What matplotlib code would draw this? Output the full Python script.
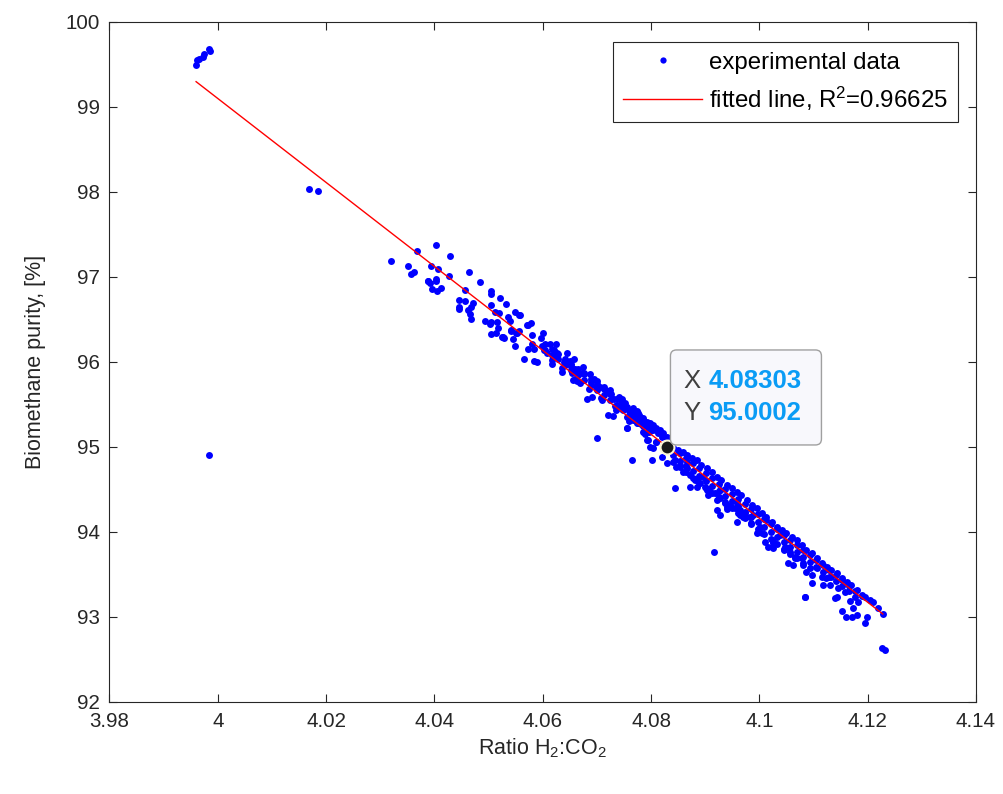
import matplotlib
matplotlib.use("Agg")
import matplotlib.pyplot as plt
from matplotlib.patches import FancyBboxPatch
from matplotlib.transforms import IdentityTransform

plt.rcParams['font.family'] = ['Liberation Sans', 'DejaVu Sans']
plt.rcParams['mathtext.fontset'] = 'custom'
plt.rcParams['mathtext.rm'] = 'Liberation Sans'
plt.rcParams['mathtext.it'] = 'Liberation Sans:italic'

# experimental points (ratio H2:CO2, purity %)
top_left = [(3.9960, 99.494), (3.9962, 99.553), (3.9965, 99.565), (3.9973, 99.588),
            (3.9975, 99.624), (3.9984, 99.682), (3.9986, 99.659)]
isolated = [(4.0168, 98.039), (4.0185, 98.008), (3.9984, 94.906)]

seg_404 = [(4.0319, 97.192), (4.0367, 97.302), (4.0352, 97.126), (4.0357, 97.032), (4.0363, 97.059),
           (4.0389, 96.953), (4.0403, 97.376), (4.0429, 97.244), (4.0394, 97.133), (4.0407, 97.094),
           (4.0403, 96.980), (4.0403, 96.956), (4.0388, 96.956), (4.0391, 96.926), (4.0396, 96.859),
           (4.0405, 96.835), (4.0412, 96.874), (4.0427, 97.008), (4.0463, 97.055), (4.0485, 96.941),
           (4.0457, 96.844), (4.0445, 96.726), (4.0445, 96.644), (4.0445, 96.620), (4.0456, 96.721),
           (4.0471, 96.698), (4.0468, 96.644), (4.0462, 96.612), (4.0466, 96.561), (4.0468, 96.509),
           (4.0504, 96.835), (4.0504, 96.796), (4.0522, 96.756), (4.0505, 96.667), (4.0533, 96.686),
           (4.0511, 96.585), (4.0519, 96.576), (4.0548, 96.592), (4.0557, 96.553), (4.0535, 96.533),
           (4.0539, 96.482), (4.0494, 96.486), (4.0502, 96.447), (4.0505, 96.474), (4.0515, 96.467),
           (4.0518, 96.396), (4.0505, 96.329), (4.0514, 96.338), (4.0525, 96.298), (4.0528, 96.282),
           (4.0541, 96.376), (4.0552, 96.341), (4.0545, 96.271), (4.0548, 96.188), (4.0557, 96.368),
           (4.0571, 96.439), (4.0565, 96.039), (4.0573, 96.156)]

seg_406 = [(4.0558, 96.556), (4.0541, 96.368), (4.0551, 96.338), (4.0527, 96.291), (4.0572, 96.435),
           (4.0578, 96.462), (4.0581, 96.318), (4.0600, 96.341), (4.0597, 96.286), (4.0599, 96.192),
           (4.0581, 96.208), (4.0583, 96.149), (4.0584, 96.015), (4.0590, 96.000), (4.0613, 96.215),
           (4.0624, 96.208), (4.0620, 96.145), (4.0603, 96.141), (4.0608, 96.102), (4.0627, 96.102),
           (4.0626, 96.062), (4.0617, 96.024), (4.0618, 95.976), (4.0644, 96.109), (4.0635, 95.886),
           (4.0639, 96.004), (4.0644, 95.980), (4.0650, 96.012), (4.0657, 96.032), (4.0653, 95.949),
           (4.0659, 95.918), (4.0654, 95.871), (4.0663, 95.859), (4.0663, 95.776), (4.0656, 95.788),
           (4.0675, 95.945), (4.0677, 95.874), (4.0672, 95.867), (4.0669, 95.749), (4.0687, 95.859),
           (4.0690, 95.768), (4.0695, 95.804), (4.0700, 95.776), (4.0698, 95.702), (4.0706, 95.702),
           (4.0681, 95.565), (4.0691, 95.588), (4.0700, 95.106), (4.0708, 95.576), (4.0714, 95.709),
           (4.0719, 95.662), (4.0724, 95.674), (4.0727, 95.627), (4.0731, 95.565), (4.0721, 95.376),
           (4.0730, 95.365), (4.0741, 95.585), (4.0746, 95.565), (4.0745, 95.502), (4.0747, 95.451),
           (4.0733, 95.482), (4.0738, 95.455), (4.0755, 95.474), (4.0759, 95.424), (4.0764, 95.380),
           (4.0756, 95.227), (4.0767, 95.455), (4.0775, 95.427), (4.0770, 95.349), (4.0778, 95.373),
           (4.0783, 95.329), (4.0786, 95.271), (4.0781, 95.271), (4.0788, 95.153), (4.0793, 95.082),
           (4.0797, 95.180), (4.0774, 95.279)]

seg_408 = [(4.0752, 95.514), (4.0764, 95.435), (4.0770, 95.404), (4.0776, 95.396), (4.0780, 95.356),
           (4.0786, 95.338), (4.0792, 95.298), (4.0799, 95.279), (4.0804, 95.259), (4.0810, 95.220),
           (4.0816, 95.200), (4.0823, 95.161), (4.0829, 95.121), (4.0754, 95.455), (4.0761, 95.415),
           (4.0773, 95.356), (4.0783, 95.298), (4.0795, 95.239), (4.0804, 95.200), (4.0813, 95.161),
           (4.0820, 95.121), (4.0755, 95.356), (4.0767, 95.318), (4.0776, 95.279), (4.0755, 95.220),
           (4.0764, 94.847), (4.0801, 94.847), (4.0820, 94.886), (4.0789, 95.161), (4.0795, 95.082),
           (4.0804, 94.985), (4.0799, 95.004), (4.0810, 95.062)]

seg_409 = [(4.0841, 94.985), (4.0850, 94.965), (4.0859, 94.945), (4.0866, 94.906), (4.0875, 94.867),
           (4.0884, 94.847), (4.0893, 94.788), (4.0903, 94.749), (4.0912, 94.709), (4.0921, 94.651),
           (4.0930, 94.612), (4.0940, 94.553), (4.0949, 94.514), (4.0958, 94.474), (4.0967, 94.435),
           (4.0977, 94.376), (4.0986, 94.318), (4.0995, 94.279), (4.1004, 94.220), (4.1013, 94.141),
           (4.0844, 94.847), (4.0853, 94.788), (4.0866, 94.749), (4.0872, 94.671), (4.0881, 94.612),
           (4.0890, 94.573), (4.0900, 94.533), (4.0909, 94.474), (4.0918, 94.455), (4.0927, 94.396),
           (4.0936, 94.356), (4.0946, 94.318), (4.0955, 94.279), (4.0964, 94.259), (4.0973, 94.220),
           (4.0983, 94.180), (4.0872, 94.533), (4.0906, 94.435), (4.0921, 94.259), (4.0927, 94.200),
           (4.0958, 94.121), (4.0940, 94.298), (4.0866, 94.827), (4.0896, 94.651), (4.0927, 94.494),
           (4.0958, 94.338), (4.0989, 94.200), (4.0844, 94.521), (4.0940, 94.271), (4.0829, 94.808),
           (4.0847, 94.768), (4.0859, 94.709), (4.0884, 94.533), (4.0903, 94.494), (4.0921, 94.376),
           (4.0917, 93.761)]

seg_411 = [(4.1013, 94.180), (4.1023, 94.121), (4.1032, 94.062), (4.1041, 94.024), (4.1050, 93.985),
           (4.1060, 93.945), (4.1069, 93.906), (4.1078, 93.847), (4.1087, 93.788), (4.1097, 93.749),
           (4.1106, 93.691), (4.1115, 93.632), (4.1124, 93.592), (4.1133, 93.553), (4.1143, 93.514),
           (4.1152, 93.455), (4.1161, 93.415), (4.1170, 93.376), (4.1180, 93.318), (4.1189, 93.259),
           (4.1195, 93.239), (4.1204, 93.200), (4.1210, 93.173), (4.1219, 93.102), (4.1228, 93.035),
           (4.0970, 94.180), (4.0995, 93.985), (4.1010, 93.886), (4.1016, 93.827), (4.1026, 93.867),
           (4.1026, 93.808), (4.1047, 93.820), (4.1056, 93.768), (4.1078, 93.691), (4.1053, 93.632),
           (4.1063, 93.612), (4.1081, 93.612), (4.1087, 93.533), (4.1097, 93.494), (4.1097, 93.396),
           (4.1115, 93.474), (4.1118, 93.376), (4.1130, 93.376), (4.1146, 93.338), (4.1158, 93.298),
           (4.1084, 93.239), (4.1143, 93.239), (4.1001, 94.062), (4.1038, 93.965), (4.1066, 93.710),
           (4.1106, 93.573), (4.1085, 93.235), (4.1140, 93.220), (4.1167, 93.192), (4.1183, 93.180),
           (4.1173, 93.102), (4.1153, 93.071), (4.1160, 92.996), (4.1171, 93.004), (4.1181, 93.027),
           (4.1199, 92.996), (4.1195, 92.926), (4.1227, 92.632), (4.1232, 92.612), (4.1123, 93.455),
           (4.1133, 93.474)]

# the dense core of the band, 4.06 - 4.12
band_core = [(4.0605, 96.21), (4.0605, 96.14), (4.0617, 96.15), (4.0617, 96.08), (4.0629, 96.09),
             (4.0629, 96.03), (4.0641, 96.04), (4.0641, 95.97), (4.0653, 95.98), (4.0653, 95.91),
             (4.0665, 95.92), (4.0665, 95.85), (4.0677, 95.86), (4.0677, 95.79), (4.0689, 95.80),
             (4.0689, 95.73), (4.0701, 95.74), (4.0701, 95.67), (4.0713, 95.68), (4.0713, 95.61),
             (4.0725, 95.62), (4.0725, 95.55), (4.0737, 95.56), (4.0737, 95.49), (4.0749, 95.50),
             (4.0749, 95.43), (4.0761, 95.44), (4.0761, 95.37), (4.0773, 95.38), (4.0773, 95.31),
             (4.0785, 95.32), (4.0785, 95.25), (4.0797, 95.26), (4.0797, 95.19),
             (4.0841, 94.99), (4.0841, 94.90), (4.0841, 94.82), (4.0853, 94.93), (4.0853, 94.84),
             (4.0853, 94.76), (4.0865, 94.87), (4.0865, 94.78), (4.0865, 94.70), (4.0877, 94.81),
             (4.0877, 94.72), (4.0877, 94.64), (4.0889, 94.75), (4.0889, 94.66), (4.0889, 94.58),
             (4.0901, 94.69), (4.0901, 94.60), (4.0901, 94.52), (4.0913, 94.63), (4.0913, 94.54),
             (4.0913, 94.46), (4.0925, 94.57), (4.0925, 94.48), (4.0925, 94.40), (4.0937, 94.51),
             (4.0937, 94.42), (4.0937, 94.34), (4.0949, 94.45), (4.0949, 94.36), (4.0949, 94.28),
             (4.0961, 94.39), (4.0961, 94.30), (4.0961, 94.22), (4.0973, 94.33), (4.0973, 94.24),
             (4.0973, 94.16), (4.0985, 94.27), (4.0985, 94.18), (4.0985, 94.10), (4.0997, 94.21),
             (4.0997, 94.12), (4.0997, 94.04), (4.1009, 94.15), (4.1009, 94.06), (4.1009, 93.98),
             (4.1021, 94.09), (4.1021, 94.00), (4.1021, 93.92), (4.1033, 94.03), (4.1033, 93.94),
             (4.1033, 93.86), (4.1045, 93.97), (4.1045, 93.88), (4.1045, 93.80), (4.1057, 93.91),
             (4.1057, 93.82), (4.1057, 93.74), (4.1069, 93.85), (4.1069, 93.77), (4.1069, 93.69),
             (4.1081, 93.79), (4.1081, 93.71), (4.1081, 93.64), (4.1093, 93.73), (4.1093, 93.65),
             (4.1093, 93.58), (4.1105, 93.67), (4.1105, 93.59), (4.1117, 93.61), (4.1117, 93.53),
             (4.1129, 93.55), (4.1129, 93.47), (4.1141, 93.49), (4.1141, 93.42), (4.1153, 93.43),
             (4.1153, 93.36), (4.1165, 93.37), (4.1165, 93.30), (4.1177, 93.31), (4.1177, 93.24),
             (4.1189, 93.25)]

# points just under the fitted line
band_low = [(4.0635, 95.93), (4.0660, 95.80), (4.0685, 95.68), (4.0710, 95.55), (4.0735, 95.43),
            (4.0760, 95.30), (4.0785, 95.18), (4.0810, 95.06), (4.0885, 94.62), (4.0905, 94.50),
            (4.0925, 94.41), (4.0945, 94.30), (4.0965, 94.20), (4.0985, 94.09), (4.1005, 93.99),
            (4.1025, 93.89), (4.1045, 93.79), (4.1065, 93.69)]

# linear fit end points and data tip
fit_x = [3.9960, 4.1228]
fit_y = [99.298, 93.035]
r2 = 0.96625
tip_x, tip_y = 4.08303, 95.0002

points = (top_left + isolated + seg_404 + seg_406 + seg_408 + seg_409 + seg_411
          + band_core + band_low + [(tip_x, tip_y)])
exp_x = [p[0] for p in points]
exp_y = [p[1] for p in points]

txt = '#262626'
fig = plt.figure(figsize=(10.04, 7.94), dpi=100)
ax = fig.add_axes([0.109, 0.1159, 0.8631, 0.8564])

ax.plot(exp_x, exp_y, 'o', color='#0000ff', ms=5, mew=0, label='experimental data', zorder=2)
ax.plot(fit_x, fit_y, '-', color='#ff0000', lw=1, label='fitted line, R$^2$=%g' % r2, zorder=3)

ax.set_xlim(3.98, 4.14)
ax.set_ylim(92, 100)
xt = [3.98, 4.0, 4.02, 4.04, 4.06, 4.08, 4.1, 4.12, 4.14]
ax.set_xticks(xt)
ax.set_xticklabels(['%g' % v for v in xt])
ax.set_yticks(range(92, 101))
ax.tick_params(direction='in', top=True, right=True, labelsize=14.8, colors=txt,
               length=6, width=0.8, pad=7)
for s in ax.spines.values():
    s.set_color(txt)
    s.set_linewidth(0.8)

ax.set_xlabel('Ratio H$_2$:CO$_2$', fontsize=15.5, color=txt, labelpad=4)
ax.set_ylabel('Biomethane purity, [%]', fontsize=15.5, color=txt, labelpad=14)

leg = ax.legend(loc='upper right', bbox_to_anchor=(0.979, 0.9706), borderaxespad=0,
                fontsize=17.3, fancybox=False, edgecolor=txt, framealpha=1,
                handlelength=3.3, handletextpad=0.3, markerscale=0.9, borderpad=0.4,
                labelspacing=0.45)
leg.get_frame().set_linewidth(0.8)

# data tip
ax.plot([tip_x], [tip_y], 'o', color='#1a1a1a', ms=10, mec='#fbf6d8', mew=1.5, zorder=5)
px, py = ax.transData.transform((tip_x, tip_y))
box = FancyBboxPatch((px + 3, py + 2), 151, 95, boxstyle='round,pad=0,rounding_size=6',
                     transform=IdentityTransform(), facecolor='#f8f8fc', edgecolor='#a0a0a0',
                     lw=1, zorder=6, clip_on=False)
ax.add_artist(box)
for dy, lab, val in [(66, 'X', '4.08303'), (34, 'Y', '95.0002')]:
    ax.annotate(lab, (tip_x, tip_y), xytext=(16, dy), textcoords='offset pixels',
                fontsize=18.5, color='#404040', va='center', ha='left', zorder=7)
    ax.annotate(val, (tip_x, tip_y), xytext=(41, dy), textcoords='offset pixels',
                fontsize=18.5, color='#0a9cf5', fontweight='bold', va='center', ha='left', zorder=7)

fig.savefig('out.png', dpi=100)
